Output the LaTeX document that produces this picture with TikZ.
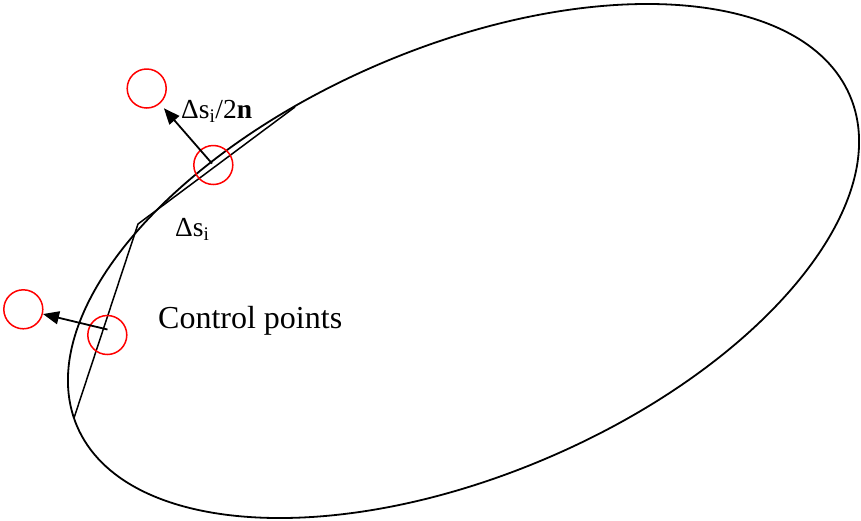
\documentclass[tikz,border=0pt]{standalone}
\usepackage{fontspec}
\setmainfont{Liberation Serif}
\usetikzlibrary{arrows.meta}
\begin{document}
\begin{tikzpicture}[x=1pt,y=-1pt,
  curve/.style={line width=1.8pt,black},
  chord/.style={line width=1.5pt,black},
  ctrl/.style={circle,draw=red,line width=1.5pt,minimum size=39pt,inner sep=0pt},
  normalarrow/.style={line width=1.8pt,-{Triangle[length=16pt,width=13pt]}},
  lbl/.style={inner sep=0pt,anchor=base west,font=\fontsize{27.5}{32}\selectfont},
  biglbl/.style={inner sep=0pt,anchor=base west,font=\fontsize{32}{37}\selectfont}]
\useasboundingbox (0,0) rectangle (861,520);
% ellipse
\draw[curve,rotate around={23.15:(463.5,261)}] (463.5,261) ellipse [x radius=420.3pt, y radius=214.1pt];
% chords
\coordinate (p0) at (74,418);
\coordinate (p1) at (138,224);
\coordinate (p2) at (295,107);
\draw[chord] (p0) -- (p1) -- (p2);
% control points
\node[ctrl] (c1) at (146.7,88.5) {};
\node[ctrl] (c2) at (213.3,165) {};
\node[ctrl] (c3) at (23.3,309.3) {};
\node[ctrl] (c4) at (107.3,335) {};
\coordinate (a1) at (212,163.5);
\coordinate (a2) at (107.5,329.5);
\draw[normalarrow,shorten >=6pt] (a1) -- (c1);
\draw[normalarrow] (a2) -- (c3);
% labels
\node[lbl] (l1) at (181,118.3) {Δs\textsubscript{i}/2\textbf{n}};
\node[lbl] (l2) at (175,236.7) {Δs\textsubscript{i}};
\node[biglbl] (l3) at (158,328.3) {Control points};
\end{tikzpicture}
\end{document}
